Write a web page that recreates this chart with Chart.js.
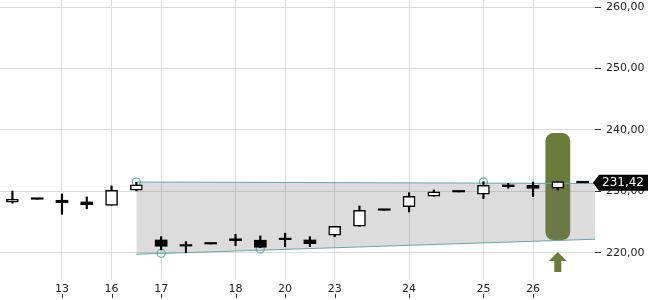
<!DOCTYPE html>
<html>
<head>
<meta charset="utf-8">
<script src="https://cdn.jsdelivr.net/npm/chart.js@4/dist/chart.umd.min.js"></script>
<style>
  html, body { margin: 0; padding: 0; background: #fff; }
  #wrap { width: 650px; height: 300px; position: relative; }
</style>
</head>
<body>
<div id="wrap"><canvas id="c"></canvas></div>
<script>
// ---- data ----
const xLabels = ['', '', '13', '', '16', '', '17', '', '', '18', '', '20', '', '23', '', '', '24', '', '', '25', '', '26', '', ''];
const opens  = [228.24, 228.73, 228.57, 228.29, 227.75, 230.20, 222.11, 221.30, 221.46, 222.30, 222.07, 222.17, 222.11, 222.88, 224.34, 226.94, 227.53, 229.22, 229.92, 229.54, 231.06, 231.00, 230.52, 231.42];
const highs  = [230.08, 228.73, 229.59, 229.11, 230.90, 231.50, 222.65, 221.84, 221.46, 223.04, 222.76, 223.20, 222.65, 224.34, 227.64, 226.94, 229.80, 230.24, 229.92, 231.60, 231.33, 231.54, 231.59, 231.42];
const lows   = [228.08, 228.73, 226.29, 227.20, 227.75, 230.10, 220.50, 220.05, 221.46, 221.19, 220.85, 221.02, 221.02, 222.65, 224.34, 226.94, 226.67, 229.22, 229.92, 228.83, 230.52, 229.15, 230.24, 231.42];
const closes = [228.73, 228.73, 228.18, 227.85, 230.20, 231.06, 221.09, 221.12, 221.46, 222.00, 220.93, 222.17, 221.51, 224.34, 226.94, 226.94, 229.22, 229.92, 229.92, 231.01, 230.78, 230.52, 231.59, 231.42];
const yTicks = [220, 230, 240, 250, 260];
const channelX = [5, 23.5];
const channelTop = [231.54, 231.30];
const channelBottom = [219.79, 222.23];
const touchX = [5, 6, 10, 19];
const touchY = [231.54, 219.95, 220.65, 231.55];
const lastPrice = 231.42;
const signalIndex = 22;
const signalRange = [222.1, 239.5];

// ---- styling ----
const FONT = 'DejaVu Sans';
const TEAL = '#5fa9a9';
const OLIVE = '#6b7c3a';

const idx = opens.map((_, i) => i);
const bodyData = idx.map(i => ({ x: i, y: [Math.min(opens[i], closes[i]), Math.max(opens[i], closes[i])] }));
const wickData = idx.map(i => ({ x: i, y: [lows[i], highs[i]] }));
const isUp = i => closes[i] > opens[i];

const signalPlugin = {
  id: 'signal',
  beforeDatasetsDraw(chart) {
    const { ctx, scales: { x, y } } = chart;
    const x0 = x.getPixelForValue(signalIndex - 0.5), x1 = x.getPixelForValue(signalIndex + 0.5);
    const y0 = y.getPixelForValue(signalRange[1]), y1 = y.getPixelForValue(signalRange[0]);
    ctx.save();
    ctx.fillStyle = OLIVE;
    ctx.beginPath();
    ctx.roundRect(x0, y0, x1 - x0, y1 - y0, 8);
    ctx.fill();
    ctx.restore();
  },
  afterDatasetsDraw(chart) {
    const { ctx, chartArea, scales: { x } } = chart;
    const cx = x.getPixelForValue(signalIndex);
    const tip = chartArea.bottom - 28, base = tip + 9, bot = chartArea.bottom - 8;
    ctx.save();
    ctx.fillStyle = OLIVE;
    ctx.beginPath();
    ctx.moveTo(cx, tip);
    ctx.lineTo(cx + 9, base);
    ctx.lineTo(cx + 3.5, base);
    ctx.lineTo(cx + 3.5, bot);
    ctx.lineTo(cx - 3.5, bot);
    ctx.lineTo(cx - 3.5, base);
    ctx.lineTo(cx - 9, base);
    ctx.closePath();
    ctx.fill();
    ctx.restore();
  },
  afterDraw(chart) {
    const { ctx, chartArea, scales: { x, y } } = chart;
    ctx.save();
    ctx.strokeStyle = '#333';
    ctx.lineWidth = 1;
    x.ticks.forEach(t => {
      const px = Math.round(x.getPixelForValue(t.value)) + 0.5;
      ctx.beginPath();
      ctx.moveTo(px, x.bottom - 6);
      ctx.lineTo(px, x.bottom - 2);
      ctx.stroke();
    });
    const py = y.getPixelForValue(lastPrice);
    const l = chartArea.right - 2;
    ctx.fillStyle = '#000';
    ctx.beginPath();
    ctx.moveTo(l, py);
    ctx.lineTo(l + 6, py - 8);
    ctx.lineTo(648, py - 8);
    ctx.lineTo(648, py + 8);
    ctx.lineTo(l + 6, py + 8);
    ctx.closePath();
    ctx.fill();
    ctx.fillStyle = '#fff';
    ctx.font = '12px "' + FONT + '"';
    ctx.textBaseline = 'middle';
    ctx.textAlign = 'left';
    ctx.fillText(lastPrice.toFixed(2).replace('.', ','), l + 9, py + 0.5);
    ctx.restore();
  }
};

new Chart(document.getElementById('c'), {
  type: 'bar',
  data: {
    datasets: [
      {
        type: 'bar', label: 'body', data: bodyData, order: 0, grouped: false,
        barThickness: 12, minBarLength: 1.5, borderSkipped: false,
        backgroundColor: c => isUp(c.dataIndex) ? '#fff' : '#000',
        borderColor: '#000',
        borderWidth: c => isUp(c.dataIndex) ? 1.5 : 0
      },
      {
        type: 'bar', label: 'wick', data: wickData, order: 1, grouped: false,
        barThickness: 1.5, backgroundColor: '#000', borderWidth: 0
      },
      {
        type: 'line', label: 'touch', data: touchX.map((v, i) => ({ x: v, y: touchY[i] })), order: 2,
        showLine: false, pointRadius: 4, pointStyle: 'circle', pointBorderColor: TEAL,
        pointBackgroundColor: 'rgba(0,0,0,0)', pointBorderWidth: 1.2
      },
      {
        type: 'line', label: 'top', data: channelX.map((v, i) => ({ x: v, y: channelTop[i] })), order: 3,
        borderColor: TEAL, borderWidth: 1, pointRadius: 0, fill: false
      },
      {
        type: 'line', label: 'bottom', data: channelX.map((v, i) => ({ x: v, y: channelBottom[i] })), order: 4,
        borderColor: TEAL, borderWidth: 1, pointRadius: 0, fill: '-1',
        backgroundColor: 'rgba(110,110,110,0.245)'
      }
    ]
  },
  options: {
    responsive: true, maintainAspectRatio: false, animation: false,
    layout: { padding: 0, autoPadding: false },
    plugins: { legend: { display: false }, tooltip: { enabled: false } },
    scales: {
      x: {
        type: 'linear', position: 'bottom', min: -0.5, max: 23.5, offset: false,
        grid: { color: '#dcdcdc', drawTicks: false, offset: false },
        border: { display: false },
        ticks: {
          padding: 3, color: '#222', font: { family: FONT, size: 11 },
          autoSkip: false, maxRotation: 0,
          callback: v => xLabels[v]
        },
        afterBuildTicks: s => { s.ticks = idx.filter(i => xLabels[i] !== '').map(i => ({ value: i })); },
        afterFit: s => { s.height = 20; s.paddingLeft = 0; s.paddingRight = 0; }
      },
      y: {
        type: 'linear', position: 'right', min: 215.6, max: 261.14,
        grid: { color: '#dcdcdc', tickColor: '#333', tickLength: 6 },
        border: { display: false },
        ticks: {
          padding: 5, color: '#222', font: { family: FONT, size: 11 },
          callback: v => Number(v).toFixed(2).replace('.', ',')
        },
        afterBuildTicks: s => { s.ticks = yTicks.map(v => ({ value: v })); },
        afterFit: s => { s.width = 55; s.paddingTop = 0; s.paddingBottom = 0; }
      }
    }
  },
  plugins: [signalPlugin]
});
</script>
</body>
</html>
